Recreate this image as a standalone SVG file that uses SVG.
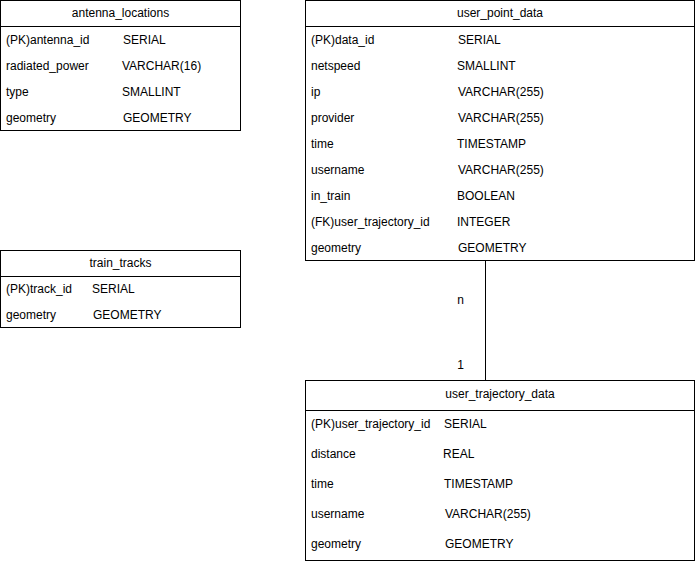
<svg xmlns="http://www.w3.org/2000/svg" width="697" height="561" viewBox="0 0 697 561">
<style>
.box{fill:#fff;stroke:#000;stroke-width:1}
.sep{stroke:#000;stroke-width:1}
text{font-family:"Liberation Sans",Arial,sans-serif;font-size:12px;fill:#000;dominant-baseline:central}
.t{text-anchor:middle}
.conn{stroke:#000;stroke-width:1;fill:none}
</style>
<rect width="697" height="561" fill="#fff"/>
<g id="connectors">
<line class="conn" x1="485.5" y1="260.5" x2="485.5" y2="380.5"/>
<text class="t" x="460.5" y="300">n</text>
<text class="t" x="460.5" y="365">1</text>
</g>
<g id="antenna_locations">
<rect class="box" x="0.5" y="0.5" width="240" height="130"/>
<line class="sep" x1="0.5" y1="26.5" x2="240.5" y2="26.5"/>
<text class="t" x="120.5" y="13">antenna_locations</text>
<text x="6" y="40">(PK)antenna_id</text><text x="123" y="40">SERIAL</text>
<text x="6" y="66">radiated_power</text><text x="122" y="66">VARCHAR(16)</text>
<text x="6" y="92">type</text><text x="122" y="92">SMALLINT</text>
<text x="6" y="118">geometry</text><text x="123" y="118">GEOMETRY</text>
</g>
<g id="train_tracks">
<rect class="box" x="0.5" y="250.5" width="240" height="77"/>
<line class="sep" x1="0.5" y1="276.5" x2="240.5" y2="276.5"/>
<text class="t" x="120.5" y="263">train_tracks</text>
<text x="6" y="289">(PK)track_id</text><text x="92" y="289">SERIAL</text>
<text x="6" y="315">geometry</text><text x="93" y="315">GEOMETRY</text>
</g>
<g id="user_point_data">
<rect class="box" x="305.5" y="0.5" width="389" height="260"/>
<line class="sep" x1="305.5" y1="26.5" x2="694.5" y2="26.5"/>
<text class="t" x="500" y="13">user_point_data</text>
<text x="311" y="40">(PK)data_id</text><text x="458" y="40">SERIAL</text>
<text x="311" y="66">netspeed</text><text x="457" y="66">SMALLINT</text>
<text x="311" y="92">ip</text><text x="458" y="92">VARCHAR(255)</text>
<text x="311" y="118">provider</text><text x="458" y="118">VARCHAR(255)</text>
<text x="311" y="144">time</text><text x="457" y="144">TIMESTAMP</text>
<text x="311" y="170">username</text><text x="458" y="170">VARCHAR(255)</text>
<text x="311" y="196">in_train</text><text x="457" y="196">BOOLEAN</text>
<text x="311" y="222">(FK)user_trajectory_id</text><text x="457" y="222">INTEGER</text>
<text x="311" y="248">geometry</text><text x="458" y="248">GEOMETRY</text>
</g>
<g id="user_trajectory_data">
<rect class="box" x="305.5" y="380.5" width="389" height="180"/>
<line class="sep" x1="305.5" y1="410.5" x2="694.5" y2="410.5"/>
<text class="t" x="500" y="394">user_trajectory_data</text>
<text x="311" y="424">(PK)user_trajectory_id</text><text x="444" y="424">SERIAL</text>
<text x="311" y="454">distance</text><text x="443" y="454">REAL</text>
<text x="311" y="484">time</text><text x="444" y="484">TIMESTAMP</text>
<text x="311" y="514">username</text><text x="445" y="514">VARCHAR(255)</text>
<text x="311" y="544">geometry</text><text x="445" y="544">GEOMETRY</text>
</g>
</svg>
